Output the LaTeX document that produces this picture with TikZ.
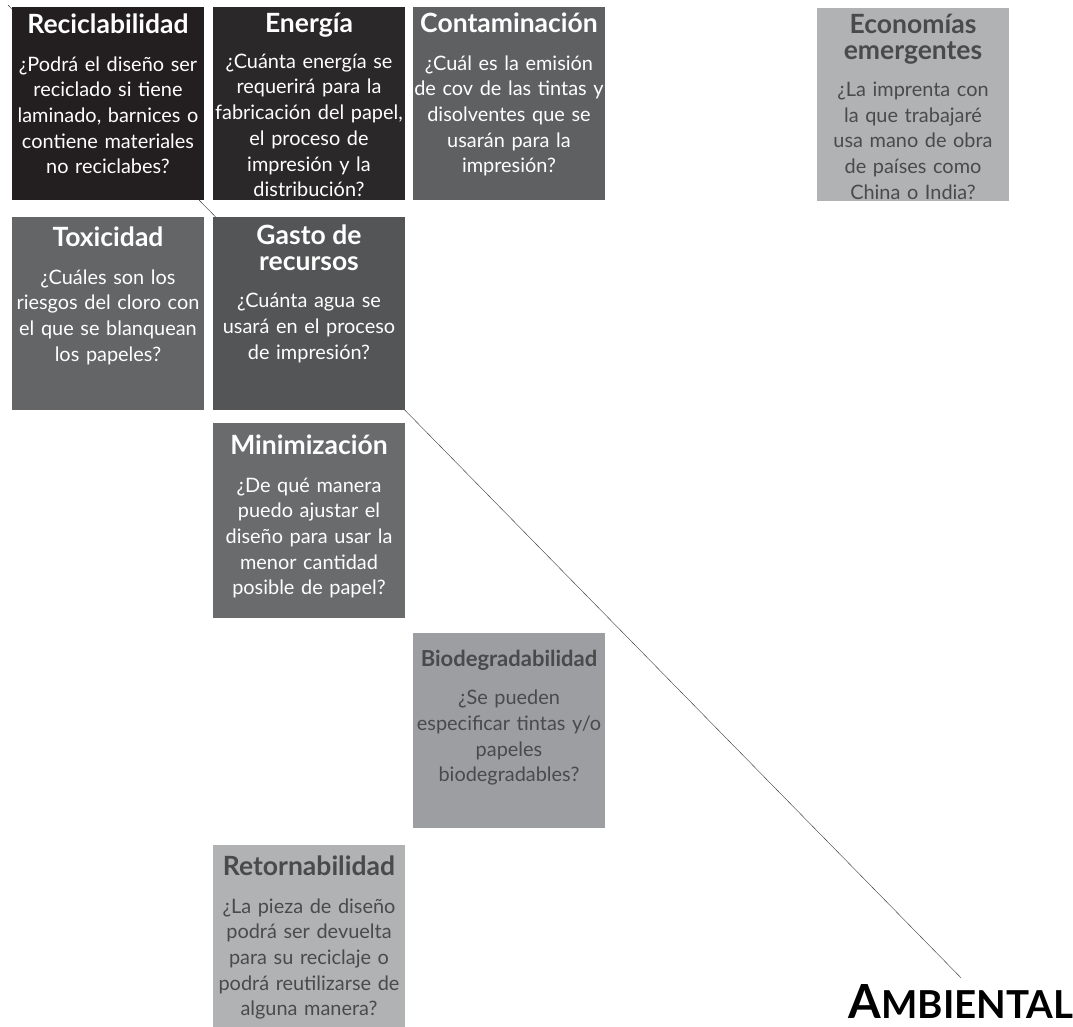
\documentclass[tikz,border=0pt]{standalone}
\usepackage{fontspec}
\setmainfont{Lato}
\usepackage{xcolor}
\definecolor{caja-negra}{HTML}{231F20}
\definecolor{caja-carbon}{HTML}{2B2829}
\definecolor{caja-gris}{HTML}{5F6062}
\definecolor{caja-toxico}{HTML}{646567}
\definecolor{caja-gasto}{HTML}{545557}
\definecolor{caja-minimo}{HTML}{6A6B6D}
\definecolor{caja-bio}{HTML}{9D9EA1}
\definecolor{caja-clara}{HTML}{B1B2B4}
\definecolor{texto-gris}{HTML}{4A4A4C}
\usepackage{tikz}
\usetikzlibrary{positioning}

\begin{document}
\begin{tikzpicture}[
    x=1pt, y=-1pt,
    caja/.style={
      rectangle,
      minimum width=192pt,
      minimum height=193pt,
      inner sep=0pt,
      outer sep=0pt
    },
    pregunta/.style={
      anchor=north,
      text width=240pt,
      align=center,
      inner sep=0pt,
      text=white,
      font=\fontsize{19.9}{25.7}\selectfont
    },
    oscura/.style={pregunta, text=texto-gris},
    linea/.style={
      thin,
      color=black!80
    }
  ]
    \newcommand{\titulo}[1]{{\bfseries\fontsize{26.5}{27}\selectfont #1}\\[11.5pt]}
    \useasboundingbox (0,0) rectangle (1073,1027);

    % Title and the diagonal behind the boxes
    \node[anchor=base, inner sep=0pt, font=\bfseries]
      (ambiental) at (961,1018) {{\fontsize{47}{47}\selectfont A}{\fontsize{38.5}{38.5}\selectfont MBIENTAL}};
    \coordinate (inicio) at (8,5);
    \draw[linea] (inicio) -- ([yshift=6pt]ambiental.north);

    % First row
    \node[caja, fill=caja-negra] (recic) at (108,103.5) {};
    \node[caja, fill=caja-carbon, right=9pt of recic] (energia) {};
    \node[caja, fill=caja-gris, right=8pt of energia] (contam) {};
    \node[caja, fill=caja-clara] (econ) at (913,104.5) {};

    % Second row and below
    \node[caja, fill=caja-toxico, below=17pt of recic] (toxic) {};
    \node[caja, fill=caja-gasto, below=17pt of energia] (gasto) {};
    \node[caja, fill=caja-minimo, minimum height=195pt, below=13pt of gasto] (minim) {};
    \node[caja, fill=caja-bio, minimum height=195pt, below right=15pt and 8pt of minim] (biodeg) {};
    \node[caja, fill=caja-clara, minimum height=182pt, below left=17pt and 8pt of biodeg] (retorn) {};

    % Texts
    \node[pregunta, yshift=-7pt] (recic-t) at (recic.north) {\titulo{Reciclabilidad}¿Podrá el diseño ser\\reciclado si tiene\\laminado, barnices o\\contiene materiales\\no reciclabes?};
    \node[pregunta, yshift=-6pt] (energia-t) at (energia.north) {{\bfseries\fontsize{26.5}{27}\selectfont Energía}\\[10pt]¿Cuánta energía se\\requerirá para la\\fabricación del papel,\\el proceso de\\impresión y la\\distribución?};
    \node[pregunta, yshift=-6pt] (contam-t) at (contam.north) {\titulo{Contaminación}¿Cuál es la emisión\\de cov de las tintas y\\disolventes que se\\usarán para la\\impresión?};
    \node[oscura, yshift=-6pt] (econ-t) at (econ.north) {\titulo{Economías\\emergentes}¿La imprenta con\\la que trabajaré\\usa mano de obra\\de países como\\China o India?};
    \node[pregunta, yshift=-10pt] (toxic-t) at (toxic.north) {\titulo{Toxicidad}¿Cuáles son los\\riesgos del cloro con\\el que se blanquean\\los papeles?};
    \node[pregunta, yshift=-8pt] (gasto-t) at (gasto.north) {{\bfseries\fontsize{26.5}{28}\selectfont Gasto de\\recursos}\\[11.5pt]¿Cuánta agua se\\usará en el proceso\\de impresión?};
    \node[pregunta, yshift=-12pt] (minim-t) at (minim.north) {\titulo{Minimización}¿De qué manera\\puedo ajustar el\\diseño para usar la\\menor cantidad\\posible de papel?};
    \node[oscura, yshift=-16.5pt] (biodeg-t) at (biodeg.north) {{\bfseries\fontsize{22}{24}\selectfont Biodegradabilidad}\\[13pt]¿Se pueden\\especificar tintas y/o\\papeles\\biodegradables?};
    \node[oscura, yshift=-11pt] (retorn-t) at (retorn.north) {\titulo{Retornabilidad}¿La pieza de diseño\\podrá ser devuelta\\para su reciclaje o\\podrá reutilizarse de\\alguna manera?};
  \end{tikzpicture}
\end{document}
